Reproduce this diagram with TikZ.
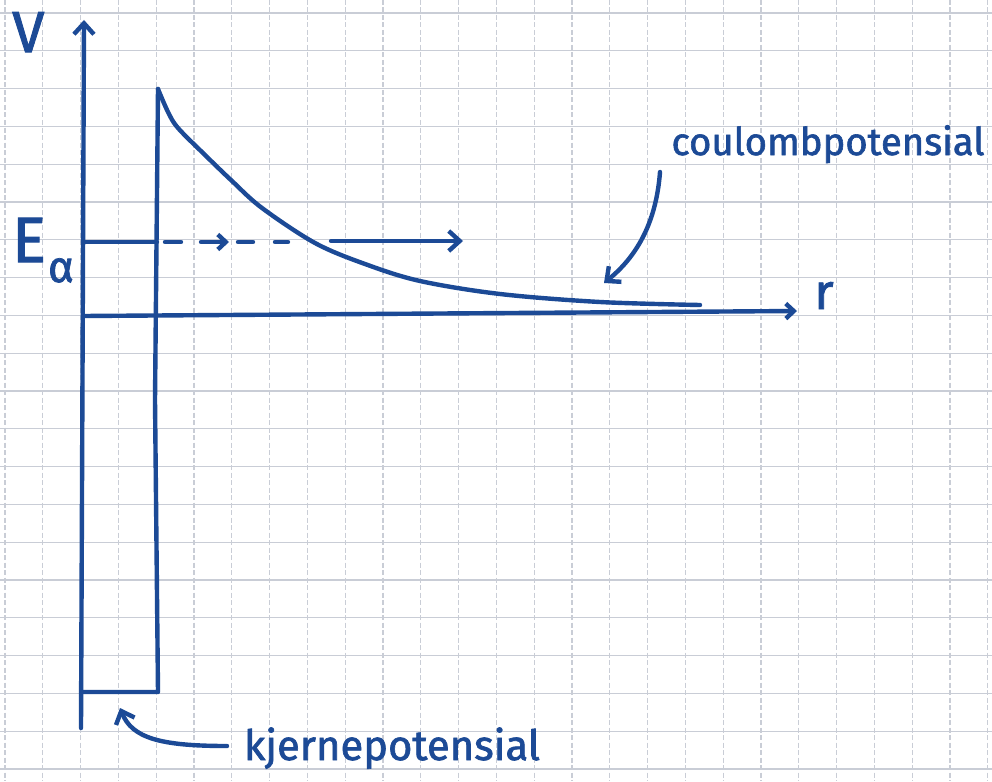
\documentclass[tikz,border=0pt]{standalone}
\usepackage{fontspec}
\setmainfont{Fira Sans}
\newfontfamily\hand[FakeBold=1.6]{Fira Sans}
\usepackage{graphicx}
\usetikzlibrary{arrows.meta}
\definecolor{ink}{HTML}{1C4A96}
\definecolor{gridc}{HTML}{C9CDD6}
\begin{document}
\begin{tikzpicture}[x=1pt,y=-1pt,
  inkline/.style={draw=ink,line width=4.4pt,line cap=round,line join=round},
  barb/.style={-{Straight Barb[length=11pt,width=20pt,line width=4.4pt]}},
  smallbarb/.style={-{Straight Barb[length=8pt,width=15pt,line width=4.4pt]}},
  lbl/.style={text=ink,inner sep=0pt,anchor=base,font=\hand}]
\useasboundingbox (0,0) rectangle (992,781);
\fill[white] (0,0) rectangle (992,781);
\begin{scope}
\clip (0,0) rectangle (992,781);
\foreach \i in {0,...,26}
  \draw[gridc,line width=1.1pt,dash pattern=on 5pt off 2.5pt] (5+37.8*\i,0) -- (5+37.8*\i,781);
\foreach \j in {0,...,20}
  \draw[gridc,line width=1.2pt] (0,13+37.8*\j) -- (992,13+37.8*\j);
\end{scope}

% coordinates
\coordinate (Vbot) at (81,728);
\coordinate (Vtop) at (84,20);
\coordinate (O) at (83,316);
\coordinate (rEnd) at (797,311);
\coordinate (wellBL) at (82,692);
\coordinate (wellBR) at (158,692);
\coordinate (peak) at (158,89);
\coordinate (E1) at (83,242);
\coordinate (E2) at (157,242);
\coordinate (tailEnd) at (700,305);

% axes
\draw[inkline,barb] (Vbot) -- (Vtop);
\draw[inkline,smallbarb] (O) -- (rEnd);

% nuclear well and coulomb barrier
\draw[inkline] (wellBL) -- (wellBR) -- (155,400) -- (peak);
\draw[inkline] plot[smooth,tension=0.55] coordinates
  {(peak) (168,112) (178,128) (205,155) (232,181) (262,208) (315,243)
   (365,264) (420,281) (500,294) (600,302) (tailEnd)};

% alpha energy
\draw[inkline] (E1) -- (E2);
\draw[inkline] (165,242) -- (181,242);
\draw[inkline,smallbarb] (201,242) -- (229,242);
\draw[inkline] (238,242) -- (253,242);
\draw[inkline] (275,242) -- (288,242);
\coordinate (Ea) at (331,241);
\coordinate (Eb) at (463,241);
\draw[inkline,barb] (Ea) -- (Eb);

% labels
\node[lbl,anchor=north west] (V) at (12,12) {\fontsize{58}{58}\selectfont V};
\node[lbl] (E) at (29,262) {\fontsize{64}{64}\selectfont E};
\node[lbl] (alpha) at (61,282) {\fontsize{44}{44}\selectfont α};
\node[lbl] (r) at (824,309) {\fontsize{50}{50}\selectfont r};
\node[lbl] (coul) at (828,155) {\resizebox{313pt}{!}{\fontsize{40}{40}\selectfont coulombpotensial}};
\node[lbl] (kjer) at (392,760) {\resizebox{296pt}{!}{\fontsize{40}{40}\selectfont kjernepotensial}};

% pointer arrows
\coordinate (cA) at (660,172);
\coordinate (cB) at (604,283);
\draw[inkline,barb] (cA) .. controls (656,225) and (635,258) .. (cB);
\coordinate (kA) at (227,746);
\coordinate (kB) at (120,708);
\draw[inkline,barb] (kA) .. controls (160,746) and (132,738) .. (kB);
\end{tikzpicture}
\end{document}
